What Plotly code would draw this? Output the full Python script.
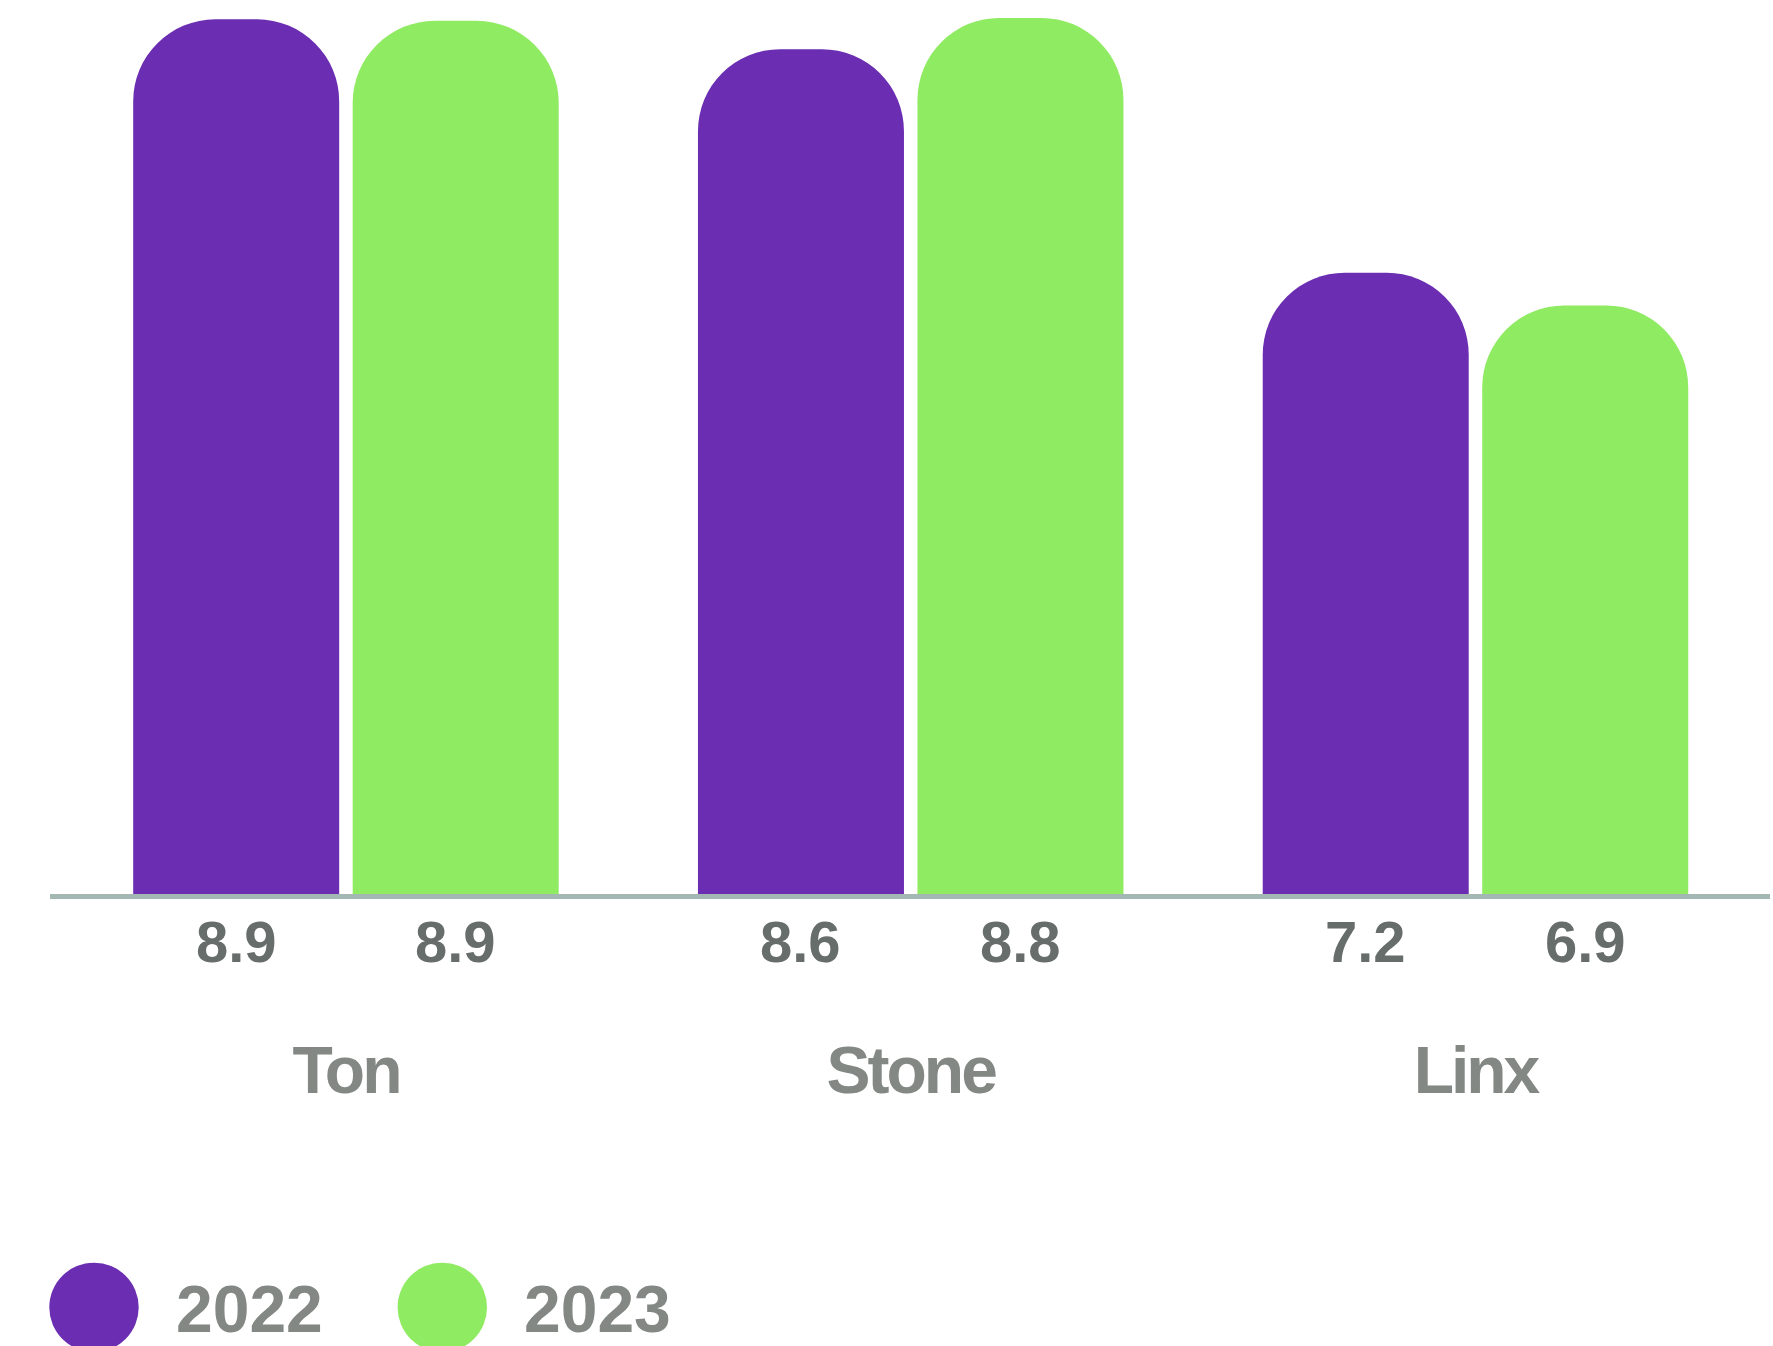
import plotly.graph_objects as go

# ---- data -------------------------------------------------------------
categories = ["Ton", "Stone", "Linx"]
series_names = ["2022", "2023"]
# bar heights as drawn in the picture
values_2022 = [8.87, 8.67, 7.17]
values_2023 = [8.86, 8.88, 6.95]
# printed value labels
labels_2022 = ["8.9", "8.6", "7.2"]
labels_2023 = ["8.9", "8.8", "6.9"]
colors = ["#6b2db1", "#8feb62"]

# ---- layout constants ---------------------------------------------------
W, H = 1773, 1346
ML, MR, MT, MB = 50, 3, 0, 452
PLOT_W = W - ML - MR
PLOT_H = H - MT - MB
XR = [-0.524, 2.5215]
BARGAP = 0.2227
BARGROUPGAP = 0.0615
FONT = "Liberation Sans, Arial, Helvetica, sans-serif"

fig = go.Figure()
for name, vals, col in zip(series_names, [values_2022, values_2023], colors):
    fig.add_trace(go.Bar(
        x=categories, y=vals, name=name,
        marker=dict(color=col, cornerradius=82, line=dict(width=0)),
        hoverinfo="skip",
    ))

# value labels under each bar
px_per_cat = PLOT_W / (XR[1] - XR[0])
slot = (1 - BARGAP) * px_per_cat / len(series_names)
annotations = []
for j, labels in enumerate([labels_2022, labels_2023]):
    shift = (j - (len(series_names) - 1) / 2) * slot
    for cat, lab in zip(categories, labels):
        annotations.append(dict(
            x=cat, xref="x", xshift=shift,
            y=-48 / PLOT_H, yref="paper", yanchor="middle",
            text=lab, showarrow=False,
            font=dict(family=FONT, size=58, color="#676d6a", weight=700),
        ))

# custom legend
shapes = []
leg_centers = [94, 442.3]
leg_text_x = [174, 522]
leg_cy = 1307.4
for name, col, cx, tx in zip(series_names, colors, leg_centers, leg_text_x):
    shapes.append(dict(
        type="circle", xref="paper", yref="paper",
        xsizemode="pixel", ysizemode="pixel",
        xanchor=(cx - ML) / PLOT_W, yanchor=(PLOT_H - leg_cy) / PLOT_H,
        x0=-44.7, x1=44.7, y0=-44.7, y1=44.7,
        fillcolor=col, line=dict(width=0), layer="above",
    ))
    annotations.append(dict(
        x=(tx - ML) / PLOT_W, xref="paper", xanchor="left",
        y=(PLOT_H - 1309) / PLOT_H, yref="paper", yanchor="middle",
        text=name, showarrow=False,
        font=dict(family=FONT, size=66, color="#838884", weight=700),
    ))

fig.update_layout(
    width=W, height=H,
    margin=dict(l=ML, r=MR, t=MT, b=MB, pad=0),
    paper_bgcolor="white", plot_bgcolor="white",
    showlegend=False,
    barmode="group", bargap=BARGAP, bargroupgap=BARGROUPGAP,
    xaxis=dict(
        type="category", range=XR,
        showline=True, linecolor="#a3b8b3", linewidth=5,
        ticks="", showgrid=False, zeroline=False,
        tickmode="array", tickvals=categories,
        ticktext=[f'<span style="letter-spacing:-3px">{c}</span>' for c in categories],
        tickfont=dict(family=FONT, size=66, color="#838884", weight=700),
        ticklabelstandoff=115,
    ),
    yaxis=dict(range=[3, 9], visible=False, showgrid=False, zeroline=False),
    annotations=annotations,
    shapes=shapes,
)

fig.write_html(
    "out.html",
    config={"displayModeBar": False, "staticPlot": True},
    post_script="document.body.style.margin='0';document.body.style.overflow='hidden';",
)
